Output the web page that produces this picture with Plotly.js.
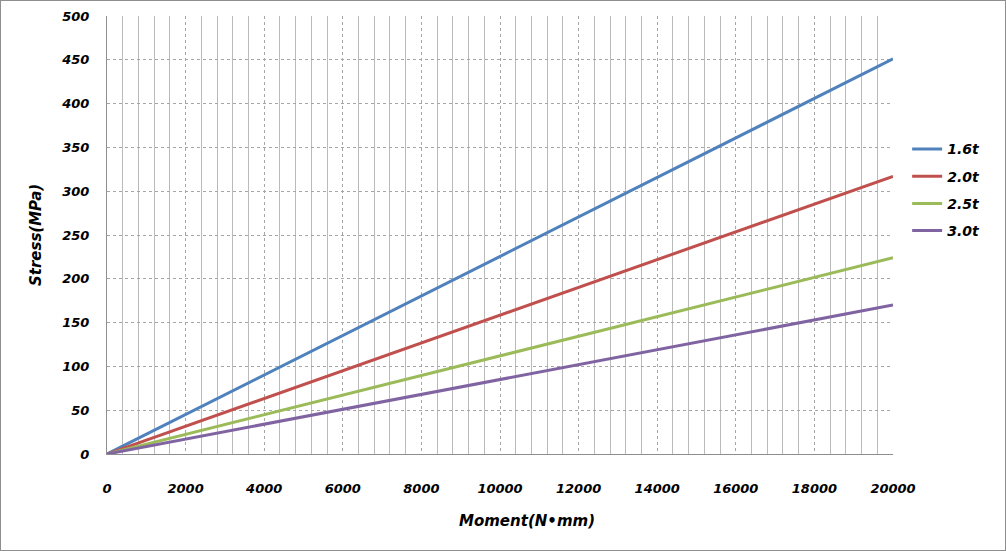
<!DOCTYPE html>
<html>
<head>
<meta charset="utf-8">
<script src="https://cdn.plot.ly/plotly-3.0.1.min.js"></script>
<style>
  html, body { margin: 0; padding: 0; background: #fff; }
  #frame { width: 1004px; height: 549px; border: 1px solid #8e8e8e; }
  #chart { width: 1004px; height: 549px; }
</style>
</head>
<body>
<div id="frame"><div id="chart"></div></div>
<script>
// Values (straight lines from the origin)
const moment = [0, 20000];
const series = ['1.6t', '2.0t', '2.5t', '3.0t'];
const stress16 = [0, 451];
const stress20 = [0, 317];
const stress25 = [0, 224];
const stress30 = [0, 170];
const colors = ['#4F81BD', '#C0504D', '#9BBB59', '#8064A2'];

const FONT = 'DejaVu Sans, Verdana, sans-serif';
const ys = [stress16, stress20, stress25, stress30];

const traces = series.map((name, i) => ({
    x: moment, y: ys[i], name: name, mode: 'lines', legendgroup: 'g' + i,
    line: { color: colors[i], width: 3 }, hoverinfo: 'none'
}));

const gridGray = '#a6a6a6';

const layout = {
    width: 1004, height: 549,
    margin: { l: 106, r: 112, t: 15, b: 96 },
    paper_bgcolor: '#fff', plot_bgcolor: '#fff',
    font: { family: FONT, size: 13, color: '#000' },
    showlegend: true,
    legend: {
        x: 1.018, y: 0.732, xanchor: 'left', yanchor: 'top',
        font: { family: FONT, size: 14, color: '#000', weight: 'bold', style: 'italic' },
        traceorder: 'grouped', tracegroupgap: 6, bgcolor: 'rgba(0,0,0,0)'
    },
    xaxis: {
        range: [0, 20000], dtick: 2000, tick0: 0, tickformat: 'd',
        showgrid: true, gridcolor: gridGray, griddash: 'dot', gridwidth: 1,
        minor: { dtick: 400, showgrid: true, gridcolor: '#bababa', gridwidth: 1, griddash: 'solid' },
        showline: true, linecolor: '#8e8e8e', linewidth: 1,
        zeroline: false, ticks: '', ticklabelstandoff: 22,
        tickfont: { family: FONT, size: 13, weight: 'bold', style: 'italic' }
    },
    yaxis: {
        range: [0, 500], dtick: 50, tick0: 0,
        showgrid: true, gridcolor: gridGray, griddash: 'dot', gridwidth: 1,
        showline: true, linecolor: '#8e8e8e', linewidth: 1,
        zeroline: false, ticks: '', ticklabelstandoff: 14,
        tickfont: { family: FONT, size: 13, weight: 'bold', style: 'italic' },
        title: { text: 'Stress(MPa)', standoff: 16,
                 font: { family: FONT, size: 15, weight: 'bold', style: 'italic' } }
    },
    annotations: [{
        text: 'Moment(N\u2022mm)', xref: 'paper', yref: 'paper',
        x: 0.534, y: -0.153, xanchor: 'center', yanchor: 'middle', showarrow: false,
        font: { family: FONT, size: 15, weight: 'bold', style: 'italic', color: '#000' }
    }]
};

Plotly.newPlot('chart', traces, layout, { displayModeBar: false, staticPlot: true });
</script>
</body>
</html>
